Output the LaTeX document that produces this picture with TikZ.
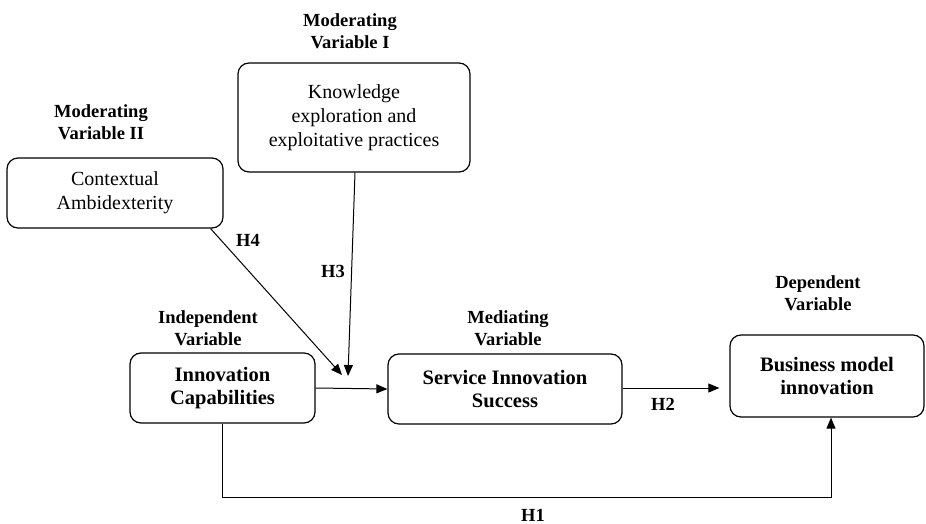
\documentclass[tikz,border=0pt]{standalone}
\usepackage{fontspec}
\setmainfont{Liberation Serif}
\usetikzlibrary{arrows.meta,calc}
\tikzset{
  varbox/.style={draw, line width=1.2pt, rounded corners=11pt, align=center, inner sep=0pt,
    font=\fontsize{20}{24}\selectfont},
  boldbox/.style={varbox, font=\bfseries\fontsize{20.5}{23.5}\selectfont},
  varlabel/.style={align=center, inner sep=0pt, font=\bfseries\fontsize{18.5}{22.5}\selectfont},
  hyp/.style={inner sep=0pt, font=\bfseries\fontsize{18.5}{22}\selectfont},
  link/.style={line width=1pt, -{Triangle[length=11pt,width=9pt]}},
  plain/.style={line width=1pt}
}
\begin{document}
\begin{tikzpicture}[x=1pt,y=-1pt]
\useasboundingbox (0,0) rectangle (926,524);
% boxes
\node[varbox, minimum width=232pt, minimum height=109pt] (know) at (354,117.5)
  {Knowledge\\exploration and\\exploitative practices};
\node[varbox, minimum width=216pt, minimum height=70pt] (ctx) at (115,193)
  {Contextual\\Ambidexterity};
\node[boldbox, minimum width=185pt, minimum height=70pt] (innov) at (222.5,388)
  {Innovation\\Capabilities};
\node[boldbox, minimum width=234pt, minimum height=70pt] (serv) at (505,389)
  {Service Innovation\\Success};
\node[boldbox, minimum width=194pt, minimum height=82pt] (bus) at (827,376)
  {Business model\\innovation};
% labels
\node[varlabel] (modI) at (350,31) {Moderating\\Variable I};
\node[varlabel] (modII) at (101,122) {Moderating\\Variable II};
\node[varlabel] (indep) at (208,328) {Independent\\Variable};
\node[varlabel] (med) at (508,328) {Mediating\\Variable};
\node[varlabel] (dep) at (818,293) {Dependent\\Variable};
% hypothesis labels
\node[hyp] (h1) at (533,515) {H1};
\node[hyp] (h2) at (663,404) {H2};
\node[hyp] (h3) at (333,271) {H3};
\node[hyp] (h4) at (248,240) {H4};
% connector points
\coordinate (h4s) at ($(ctx.south east)+(-13,0)$);
\coordinate (h4t) at (342,375);
\coordinate (h3s) at ($(know.south)+(1,0)$);
\coordinate (h3t) at (348,376);
\coordinate (c1) at ($(innov.south)$);
\coordinate (c2) at ($(innov.south)+(0,74)$);
\coordinate (c4) at ($(bus.south)+(4,0)$);
\coordinate (c3) at (c4 |- c2);
\coordinate (h2t) at ($(bus.west |- serv.east)+(-10,-1)$);
% connectors
\draw[link] (innov.east) -- (serv.west);
\draw[link] ($(serv.east)+(0,-1)$) -- (h2t);
\draw[link] (h4s) -- (h4t);
\draw[link] (h3s) -- (h3t);
\draw[link] (c1) -- (c2) -- (c3) -- (c4);
\end{tikzpicture}
\end{document}
